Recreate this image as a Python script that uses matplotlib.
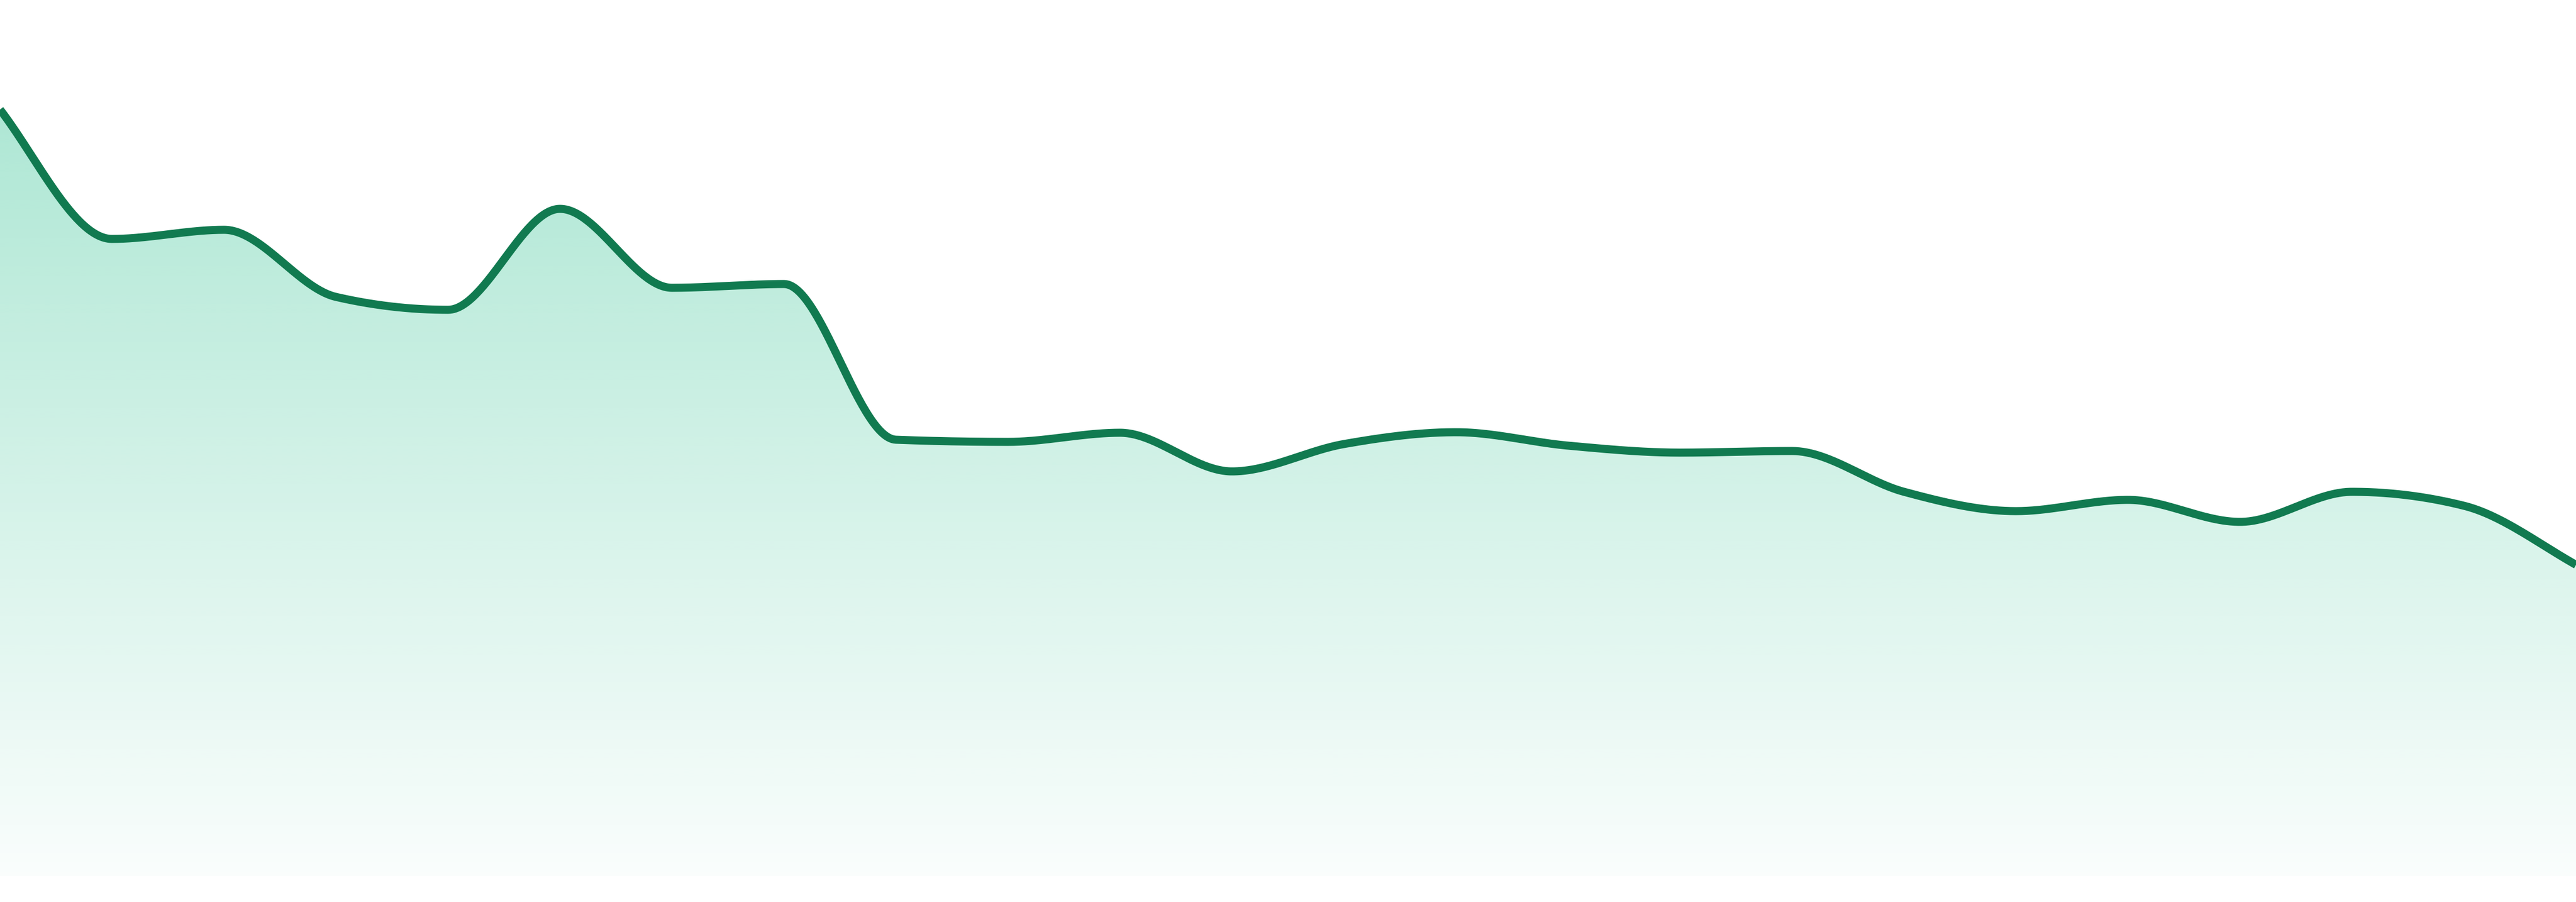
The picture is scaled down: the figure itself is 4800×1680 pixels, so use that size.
import numpy as np
import matplotlib
matplotlib.use("Agg")
import matplotlib.pyplot as plt
from matplotlib.path import Path
from matplotlib.patches import PathPatch

# ---- data ----
periods = list(range(24))
values = [1428, 1187, 1204, 1079, 1055, 1243, 1096, 1103, 813, 809, 826, 754,
          805, 827, 802, 789, 792, 716, 680, 701, 660, 716, 690, 580]

line_color = "#117A50"
fill_color = "#10B981"


def monotone_x(xs, ys, n=60):
    xs = np.asarray(xs, float)
    ys = np.asarray(ys, float)
    m = len(xs)
    t = np.zeros(m)

    def sgn(v):
        return -1.0 if v < 0 else 1.0

    for i in range(1, m - 1):
        h0 = xs[i] - xs[i - 1]
        h1 = xs[i + 1] - xs[i]
        s0 = (ys[i] - ys[i - 1]) / h0
        s1 = (ys[i + 1] - ys[i]) / h1
        p = (s0 * h1 + s1 * h0) / (h0 + h1)
        t[i] = (sgn(s0) + sgn(s1)) * min(abs(s0), abs(s1), 0.5 * abs(p))
    # end tangents: blend of secant and d3-style slope2
    s = (ys[1] - ys[0]) / (xs[1] - xs[0])
    t[0] = 0.75 * s + 0.25 * (3 * s - t[1]) / 2
    s = (ys[-1] - ys[-2]) / (xs[-1] - xs[-2])
    t[-1] = 0.75 * s + 0.25 * (3 * s - t[-2]) / 2

    ox, oy = [], []
    for i in range(m - 1):
        dx = (xs[i + 1] - xs[i]) / 3
        p0 = np.array([xs[i], ys[i]])
        p1 = np.array([xs[i] + dx, ys[i] + dx * t[i]])
        p2 = np.array([xs[i + 1] - dx, ys[i + 1] - dx * t[i + 1]])
        p3 = np.array([xs[i + 1], ys[i + 1]])
        u = np.linspace(0, 1, n, endpoint=(i == m - 2))
        pts = ((1 - u) ** 3)[:, None] * p0 + (3 * (1 - u) ** 2 * u)[:, None] * p1 \
            + (3 * (1 - u) * u ** 2)[:, None] * p2 + (u ** 3)[:, None] * p3
        ox.extend(pts[:, 0])
        oy.extend(pts[:, 1])
    return np.array(ox), np.array(oy)


cx, cy = monotone_x(periods, values)

fig = plt.figure(figsize=(48, 16.8), dpi=100)
ax = fig.add_axes([0, 0, 1, 1])
ax.set_xlim(periods[0], periods[-1])
ax.set_ylim(-48, 1632)
ax.axis("off")

# gradient fill under the curve
top = max(values)
ny = 400
vv = np.linspace(0, top, ny)
ypix = 1632 - vv
alpha = np.clip(0.34 - (ypix - 200) * 0.000222, 0, 1)
rgb = matplotlib.colors.to_rgb(fill_color)
img = np.zeros((ny, 2, 4))
img[..., 0] = rgb[0]
img[..., 1] = rgb[1]
img[..., 2] = rgb[2]
img[..., 3] = alpha[:, None]
im = ax.imshow(img, extent=[periods[0], periods[-1], 0, top], origin="lower",
               aspect="auto", interpolation="bilinear", zorder=1)
verts = np.vstack([np.column_stack([cx, cy]),
                   [[periods[-1], 0], [periods[0], 0], [cx[0], cy[0]]]])
codes = [Path.MOVETO] + [Path.LINETO] * (len(verts) - 2) + [Path.CLOSEPOLY]
patch = PathPatch(Path(verts, codes), facecolor="none", edgecolor="none")
ax.add_patch(patch)
im.set_clip_path(patch)

ax.plot(cx, cy, color=line_color, lw=10.8, solid_capstyle="butt",
        solid_joinstyle="round", zorder=3)

fig.savefig("out.png", dpi=100, facecolor="white")
